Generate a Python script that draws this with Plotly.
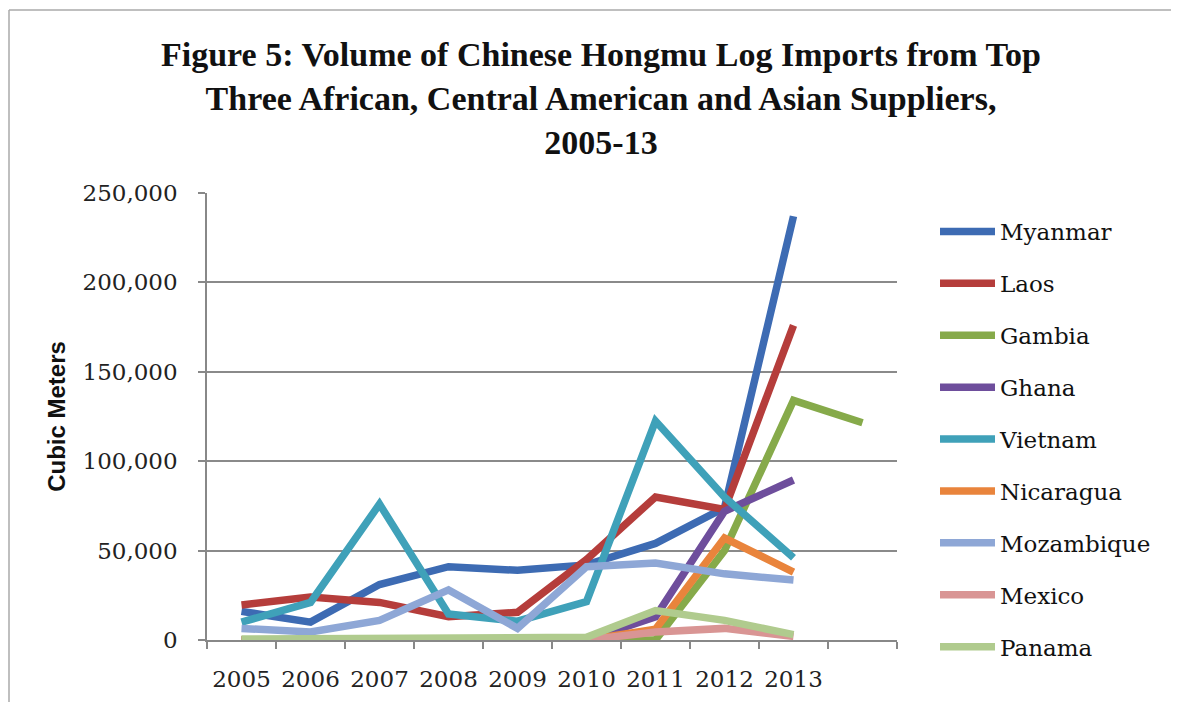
import plotly.graph_objects as go

# ---- data ----
categories = ["2005", "2006", "2007", "2008", "2009", "2010", "2011", "2012", "2013", " "]
myanmar    = [16000, 10000, 31000, 41000, 39000, 42000, 54000, 74000, 237000]
laos       = [19600, 24000, 21000, 13000, 15500, 45000, 80000, 73000, 176000]
gambia     = [0, 0, 0, 0, 0, 0, 0, 50000, 134000, 121500]
ghana      = [0, 0, 0, 0, 0, 0, 13000, 72000, 89500]
vietnam    = [10000, 21000, 76000, 14500, 10500, 21500, 122500, 80000, 46000]
nicaragua  = [0, 0, 0, 0, 0, 0, 6000, 57000, 38000]
mozambique = [6500, 4500, 11000, 28000, 6500, 41000, 43000, 37000, 33500]
mexico     = [0, 0, 0, 0, 0, 0, 4500, 6500, 2000]
panama     = [500, 500, 500, 500, 500, 1500, 16500, 11000, 3000]

series_names = ["Myanmar", "Laos", "Gambia", "Ghana", "Vietnam",
                "Nicaragua", "Mozambique", "Mexico", "Panama"]
series_values = [myanmar, laos, gambia, ghana, vietnam,
                 nicaragua, mozambique, mexico, panama]
colors = ["#3D6BB3", "#B53D3B", "#86AA4A", "#6E4E9C", "#3FA1B9",
          "#E9843C", "#8EA7D6", "#D99594", "#B0CB8E"]

y_ticks = [0, 50000, 100000, 150000, 200000, 250000]

fig = go.Figure()
for name, vals, col in zip(series_names, series_values, colors):
    fig.add_trace(go.Scatter(
        x=categories[:len(vals)], y=vals, name=name, mode="lines",
        line=dict(color=col, width=7.5),
        legendgroup=name,
    ))

# geometry: page pixels (as measured) -> figure pixels (page body margin 8px)
OFF = 8
W, H = 1179, 702
L, R, T, B = 207 - OFF, 897 - OFF, 193 - OFF, 640 - OFF

def px_x(p):  # page px -> paper x
    return (p - OFF - L) / (R - L)

def px_y(p):  # page px -> paper y
    return (B - (p - OFF)) / (B - T)

serif = "DejaVu Serif"

fig.update_layout(
    width=W, height=H,
    margin=dict(l=L, r=W - R, t=T, b=H - B),
    paper_bgcolor="white", plot_bgcolor="white",
    title=dict(
        text="<b>Figure 5: Volume of Chinese Hongmu Log Imports from Top<br>"
             "Three African, Central American and Asian Suppliers,<br>2005-13</b>",
        x=px_x(601), xanchor="center", xref="paper",
        y=1 - 58 / H, yanchor="top",
        font=dict(family="Liberation Serif", size=34, color="#111111"),
    ),
    font=dict(family=serif, color="#222222"),
    showlegend=True,
    legend=dict(
        x=px_x(935), xanchor="left", y=px_y(210), yanchor="top",
        font=dict(family=serif, size=23, color="#111111"),
        tracegroupgap=19, itemwidth=55, maxheight=600,
        bgcolor="rgba(0,0,0,0)",
    ),
    xaxis=dict(
        type="category", categoryorder="array", categoryarray=categories,
        range=[-0.5, len(categories) - 0.5],
        showgrid=False, showline=True, linecolor="#888888", linewidth=1.5,
        ticks="outside", tickson="boundaries", ticklen=7, tickcolor="#888888",
        tickwidth=1.5,
        tickfont=dict(family=serif, size=23, color="#222222"),
        ticklabelstandoff=18,
        zeroline=False,
    ),
    yaxis=dict(
        range=[0, 250000], tickvals=y_ticks, tickformat=",",
        showgrid=True, gridcolor="#8A8A8A", gridwidth=1.5,
        showline=True, linecolor="#888888", linewidth=1.5,
        ticks="outside", ticklen=7, tickcolor="#888888", tickwidth=1.5,
        tickfont=dict(family=serif, size=23, color="#222222"),
        ticklabelstandoff=16,
        zeroline=False,
        title=dict(text="<b>Cubic Meters</b>", standoff=10,
                   font=dict(family="Liberation Sans", size=24, color="#111111")),
    ),
)

# outer chart border (top and left edges visible in the reference)
fig.add_shape(type="line", xref="paper", yref="paper",
              x0=px_x(9), x1=px_x(1200), y0=px_y(10), y1=px_y(10),
              line=dict(color="#AAAAAA", width=1.5))
fig.add_shape(type="line", xref="paper", yref="paper",
              x0=px_x(9), x1=px_x(9), y0=px_y(10), y1=px_y(720),
              line=dict(color="#AAAAAA", width=1.5))

fig.write_html("out.html")
